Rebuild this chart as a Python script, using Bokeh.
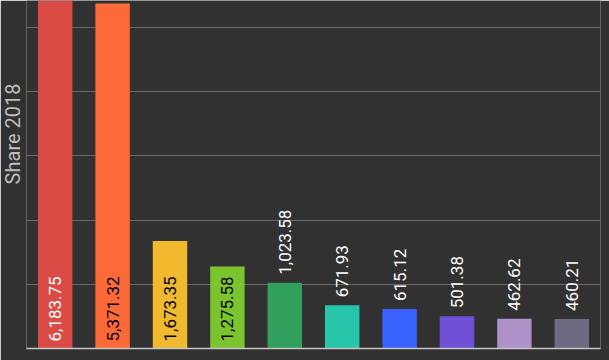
import math
from bokeh.plotting import figure
from bokeh.models import ColumnDataSource, FactorRange, SingleIntervalTicker, Title
from bokeh.core.properties import value
from bokeh.embed import file_html
from bokeh.resources import INLINE

categories = ["Item 1", "Item 2", "Item 3", "Item 4", "Item 5",
              "Item 6", "Item 7", "Item 8", "Item 9", "Item 10"]
values = [6183.75, 5371.32, 1673.35, 1275.58, 1023.58,
          671.93, 615.12, 501.38, 462.62, 460.21]
bar_colors = ["#db4b45", "#fd6a37", "#f0b92e", "#7bc42e", "#31a05d",
              "#27c5a9", "#3762fd", "#6d50d6", "#ad91c8", "#6e6a81"]
inside_text_colors = ["#ffffff", "#000000", "#000000", "#000000"]

BG = "#313131"
inside = [v >= 1200 for v in values]
labels = [f"{v:,.2f}" for v in values]

p = figure(x_range=FactorRange(*categories, range_padding=0),
           y_range=(0, 5418),
           frame_width=574, frame_height=348,
           min_border_left=26, min_border_right=9, min_border_top=0,
           output_backend="svg", toolbar_location=None,
           background_fill_color=BG, border_fill_color=BG)
p.outline_line_color = None

src = ColumnDataSource(dict(cat=categories, val=values, color=bar_colors))
p.vbar(x="cat", top="val", width=0.6, source=src, fill_color="color", line_color=None)

in_idx = [i for i, f in enumerate(inside) if f]
out_idx = [i for i, f in enumerate(inside) if not f]
src_in = ColumnDataSource(dict(cat=[categories[i] for i in in_idx],
                               y=[0] * len(in_idx),
                               t=[labels[i] for i in in_idx],
                               c=[inside_text_colors[k] for k in range(len(in_idx))]))
src_out = ColumnDataSource(dict(cat=[categories[i] for i in out_idx],
                                y=[values[i] for i in out_idx],
                                t=[labels[i] for i in out_idx]))
p.text(x="cat", y="y", text="t", source=src_in, angle=math.pi / 2,
       text_align="left", text_baseline="middle", y_offset=-7,
       text_color="c", text_font=value("Roboto"), text_font_size="17px")
p.text(x="cat", y="y", text="t", source=src_out, angle=math.pi / 2,
       text_align="left", text_baseline="middle", y_offset=-8,
       text_color="#ffffff", text_font=value("Roboto"), text_font_size="17px")

p.yaxis.visible = False
p.ygrid.ticker = SingleIntervalTicker(interval=1000)
p.ygrid.grid_line_color = "#6a6a6a"
p.ygrid.grid_line_width = 1
p.xgrid.grid_line_color = None

p.xaxis.axis_line_color = "#c8c8c8"
p.xaxis.axis_line_width = 1.5
p.xaxis.major_tick_line_color = None
p.xaxis.minor_tick_line_color = None
p.xaxis.major_label_orientation = "vertical"
p.xaxis.major_label_standoff = 10
p.xaxis.major_label_text_color = "#c8c8c8"
p.xaxis.major_label_text_font = "Roboto"
p.xaxis.major_label_text_font_size = "15px"

ytitle = Title(text="Share 2018", align="right", offset=83, standoff=0,
               vertical_align="top",
               text_color="#bdbdbd", text_font="Roboto", text_font_size="20px",
               text_font_style="normal")
p.add_layout(ytitle, "left")

open("out.html", "w").write(file_html(p, INLINE))
